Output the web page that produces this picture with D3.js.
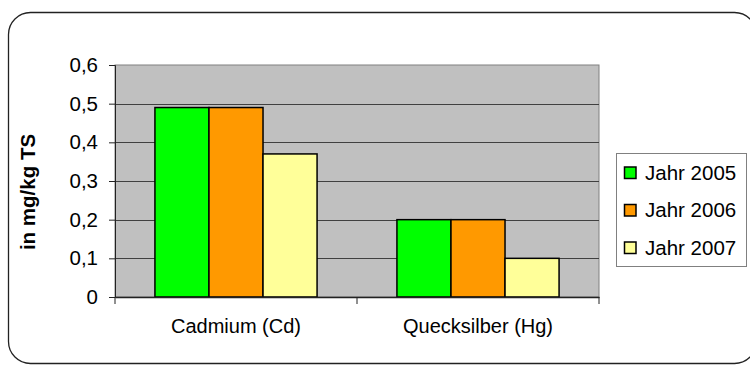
<!DOCTYPE html>
<html><head><meta charset="utf-8">
<script src="https://cdn.jsdelivr.net/npm/d3@7"></script>
<style>body{margin:0;background:#fff}svg{display:block}text{font-family:"Liberation Sans",Arial,sans-serif}</style>
</head><body>
<svg id="c" width="750" height="365"></svg>
<script>
const categories = ["Cadmium (Cd)", "Quecksilber (Hg)"];
const seriesNames = ["Jahr 2005", "Jahr 2006", "Jahr 2007"];
const values2005 = [0.49, 0.20];
const values2006 = [0.49, 0.20];
const values2007 = [0.37, 0.10];
const yTicks = [0, 0.1, 0.2, 0.3, 0.4, 0.5, 0.6];
const yTickLabels = ["0", "0,1", "0,2", "0,3", "0,4", "0,5", "0,6"];
const colors = ["#00FF00", "#FF9900", "#FFFF99"];
const yTitle = "in mg/kg TS";

const series = [values2005, values2006, values2007];
const svg = d3.select("#c");
const L = 115, R = 599, T = 65, B = 297;

// outer rounded border
svg.append("rect").attr("x", 8.5).attr("y", 12.5).attr("width", 748).attr("height", 351)
  .attr("rx", 22).attr("fill", "#fff").attr("stroke", "#222").attr("stroke-width", 1.3);

const x = d3.scaleBand().domain(categories).range([L, R]).paddingInner(0.33).paddingOuter(0.165);
const xs = d3.scaleBand().domain(seriesNames).range([0, x.bandwidth()]);
const y = d3.scaleLinear().domain([0, 0.6]).range([B, T]);

svg.append("rect").attr("x", L).attr("y", T).attr("width", R - L).attr("height", B - T)
  .attr("fill", "#C0C0C0").attr("stroke", "#808080").attr("stroke-width", 1);

// gridlines
svg.append("g").selectAll("line").data(yTicks.slice(1, -1)).join("line")
  .attr("x1", L).attr("x2", R).attr("y1", d => Math.round(y(d)) + 0.5).attr("y2", d => Math.round(y(d)) + 0.5)
  .attr("stroke", "#404040").attr("stroke-width", 1);

// bars
const g = svg.append("g");
categories.forEach((c, ci) => {
  series.forEach((s, si) => {
    g.append("rect")
      .attr("x", x(c) + xs(seriesNames[si]))
      .attr("y", y(s[ci]))
      .attr("width", xs.bandwidth())
      .attr("height", B - y(s[ci]))
      .attr("fill", colors[si]).attr("stroke", "#000").attr("stroke-width", 1.5);
  });
});

// y axis
const yAxis = d3.axisLeft(y).tickValues(yTicks).tickFormat((d, i) => yTickLabels[i]).tickSize(6).tickPadding(11);
const ya = svg.append("g").attr("transform", `translate(${L},0)`).call(yAxis);
ya.select(".domain").attr("stroke", "#222");
ya.selectAll(".tick line").attr("stroke", "#222");
ya.selectAll("text").attr("font-size", 20.5).attr("fill", "#000").attr("font-family", "Liberation Sans, Arial, sans-serif");

// x axis
const xa = svg.append("g").attr("transform", `translate(0,${B})`)
  .call(d3.axisBottom(x).tickSize(0).tickPadding(22));
xa.select(".domain").attr("stroke", "#222").attr("stroke-width", 1.5);
xa.selectAll("text").attr("font-size", 20).attr("fill", "#000").attr("font-family", "Liberation Sans, Arial, sans-serif");
const boundaries = [L, (x(categories[0]) + x.bandwidth() + x(categories[1])) / 2, R];
svg.append("g").selectAll("line").data(boundaries).join("line")
  .attr("x1", d => d).attr("x2", d => d).attr("y1", B).attr("y2", B + 7)
  .attr("stroke", "#222");

// y title
svg.append("text").attr("transform", `translate(35,192) rotate(-90)`)
  .attr("text-anchor", "middle").attr("font-size", 20.5).attr("font-weight", "bold").text(yTitle);

// legend
const lg = svg.append("g");
lg.append("rect").attr("x", 616.5).attr("y", 153.5).attr("width", 130).attr("height", 113)
  .attr("fill", "#fff").attr("stroke", "#808080");
seriesNames.forEach((n, i) => {
  const cy = 172.5 + i * 37.5;
  lg.append("rect").attr("x", 624.5).attr("y", cy - 5.5).attr("width", 11.5).attr("height", 11.5)
    .attr("fill", colors[i]).attr("stroke", "#000").attr("stroke-width", 1.5);
  lg.append("text").attr("x", 645).attr("y", cy + 7).attr("font-size", 20.5).text(n);
});
</script>
</body></html>
